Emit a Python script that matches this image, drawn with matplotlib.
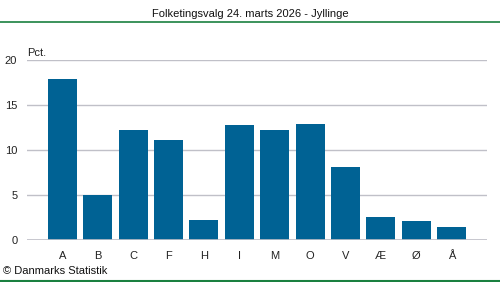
import matplotlib
matplotlib.use("Agg")
import matplotlib.pyplot as plt
from matplotlib.lines import Line2D

plt.rcParams['font.family'] = ['Liberation Sans', 'DejaVu Sans']

parties = ['A', 'B', 'C', 'F', 'H', 'I', 'M', 'O', 'V', 'Æ', 'Ø', 'Å']
pct = [17.8, 5.0, 12.2, 11.1, 2.2, 12.7, 12.2, 12.8, 8.1, 2.55, 2.1, 1.45]
yticks = [0, 5, 10, 15, 20]

W, H = 500, 282
fig = plt.figure(figsize=(W / 100, H / 100), dpi=100)
ax = fig.add_axes([27 / W, 1 - 240 / H, 460 / W, 180.5 / H])

x = range(len(parties))
ax.bar(x, pct, width=0.82, color='#006294', zorder=3)
ax.set_xlim(-1, 12)
ax.set_ylim(0, 20)
ax.set_yticks(yticks)
ax.set_xticks(list(x))
ax.set_xticklabels(parties)
ax.yaxis.grid(True, color='#c0c0c8', linewidth=1, zorder=0)
for s in ax.spines.values():
    s.set_visible(False)
ax.tick_params(axis='both', length=0, labelsize=8, colors='#222222')
ax.tick_params(axis='x', pad=8)
ax.tick_params(axis='y', pad=7)
ax.axhline(0, color='#c0c0c8', linewidth=1.2, zorder=4)

ax.text(0, 1.01, 'Pct.', transform=ax.transAxes, fontsize=8,
        ha='left', va='bottom', color='#222222')

fig.text(0.5, 1 - 14 / H, 'Folketingsvalg 24. marts 2026 - Jyllinge',
         ha='center', va='center', fontsize=8, color='#111111')
fig.add_artist(Line2D([0, 1], [1 - 22 / H, 1 - 22 / H], color='#1a8040',
                      linewidth=1.2, transform=fig.transFigure))
fig.add_artist(Line2D([0, 1], [1 - 281 / H, 1 - 281 / H], color='#1a8040',
                      linewidth=1.5, transform=fig.transFigure))
fig.text(3 / W, 1 - 271 / H, '© Danmarks Statistik', ha='left', va='center',
         fontsize=8, color='#111111')

fig.savefig('out.png', dpi=100)
